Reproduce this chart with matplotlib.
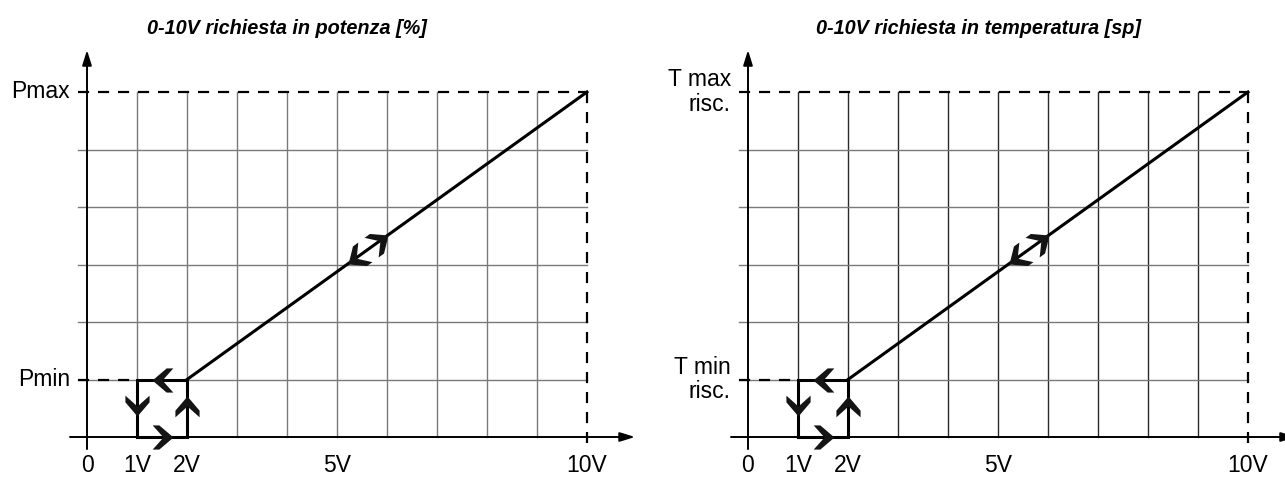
import math
import matplotlib
matplotlib.use("Agg")
import matplotlib.pyplot as plt
from matplotlib.path import Path
from matplotlib.markers import MarkerStyle
from matplotlib.transforms import Affine2D

plt.rcParams['font.family'] = ['Liberation Sans', 'DejaVu Sans']

# data (volts on x, level steps on y)
titles = ["0-10V richiesta in potenza [%]", "0-10V richiesta in temperatura [sp]"]
max_labels = ["Pmax", "T max\nrisc."]
min_labels = ["Pmin", "T min\nrisc."]
tick_pos = [0, 1, 2, 5, 10]
tick_labels = ["0", "1V", "2V", "5V", "10V"]
v_min, v_start, v_max = 1, 2, 10
level_min, level_max = 1, 6
grid_v = list(range(1, 10))
grid_h = list(range(1, 6))
# hysteresis loop path and the arrows drawn on it
loop_x = [1, 2, 2, 1, 1]
loop_y = [0, 0, 1, 1, 0]
loop_arrows = [(1.72, 0, 0), (2, 0.72, 90), (1.3, 1, 180), (1, 0.36, 270)]
diag_arrows_x = [5.22, 6.02]

W, H = 1285, 478
fig = plt.figure(figsize=(W / 100, H / 100), dpi=100)

# bold chevron with flat arm ends, tip at origin, pointing +x
chev = Path([(0, 0), (-0.68, 0.58), (-1, 0.58), (-0.48, 0), (-1, -0.58), (-0.68, -0.58), (0, 0)],
            [Path.MOVETO] + [Path.LINETO] * 5 + [Path.CLOSEPOLY])


def chevron(ax, x, y, angle):
    m = MarkerStyle(chev, transform=Affine2D().rotate_deg(angle))
    ax.plot([x], [y], marker=m, ms=30, color='#141414', mec='none', clip_on=False, zorder=6)


lefts = [87, 748]
for i, left in enumerate(lefts):
    ax = fig.add_axes([left / W, 41 / H, 500 / W, 345 / H])
    ax.set_xlim(0, 10)
    ax.set_ylim(0, 6)
    ax.axis('off')

    vcol = '#7a7a7a' if i == 0 else '#2a2a2a'
    for gx in grid_v:
        ax.plot([gx, gx], [0, level_max], color=vcol, lw=1.0, clip_on=False, zorder=1)
    for gy in grid_h:
        ax.plot([-0.18, v_max], [gy, gy], color='#7a7a7a', lw=1.0, clip_on=False, zorder=1)

    # axes with arrows
    ax.annotate('', xy=(10.96, 0), xytext=(-0.34, 0),
                arrowprops=dict(arrowstyle='-|>,head_length=0.9,head_width=0.28',
                                lw=1.4, color='k', shrinkA=0, shrinkB=0), annotation_clip=False)
    ax.annotate('', xy=(0, 6.73), xytext=(0, -0.21),
                arrowprops=dict(arrowstyle='-|>,head_length=0.9,head_width=0.28',
                                lw=1.4, color='k', shrinkA=0, shrinkB=0), annotation_clip=False)

    # dashed reference lines
    ax.plot([-0.18, v_max], [level_max, level_max], color='k', lw=1.6, ls=(0, (5, 4)), clip_on=False, zorder=2)
    ax.plot([v_max, v_max], [level_max, -0.1], color='k', lw=1.6, ls=(0, (5, 4)), clip_on=False, zorder=2)
    ax.plot([-0.18, v_min], [level_min, level_min], color='k', lw=1.6, ls=(0, (5, 4)), clip_on=False, zorder=2)

    # characteristic
    ax.plot([v_start, v_max], [level_min, level_max], color='k', lw=2.2, zorder=5, clip_on=False)
    ax.plot(loop_x, loop_y, color='k', lw=2.2, zorder=5, clip_on=False, solid_joinstyle='miter')

    for x, y, a in loop_arrows:
        chevron(ax, x, y, a)
    slope = (level_max - level_min) / (v_max - v_start)
    ang = math.degrees(math.atan2(slope * 345 / 6, 500 / 10))
    chevron(ax, diag_arrows_x[0], level_min + slope * (diag_arrows_x[0] - v_start), ang + 180)
    chevron(ax, diag_arrows_x[1], level_min + slope * (diag_arrows_x[1] - v_start), ang)

    for p, lab in zip(tick_pos, tick_labels):
        ax.text(p, -0.5, lab, ha='center', va='center', fontsize=16.5)
    ax.text(-0.34, level_max, max_labels[i], ha='right', va='center', fontsize=16.5,
            multialignment='right', linespacing=1.1)
    ax.text(-0.34, level_min, min_labels[i], ha='right', va='center', fontsize=16.5,
            multialignment='right', linespacing=1.1)

    tx = 4.0 if i == 0 else 4.6
    ax.text(tx, 7.1, titles[i], ha='center', va='center', fontsize=14.3,
            fontweight='bold', fontstyle='italic')

fig.savefig('out.png', dpi=100)
